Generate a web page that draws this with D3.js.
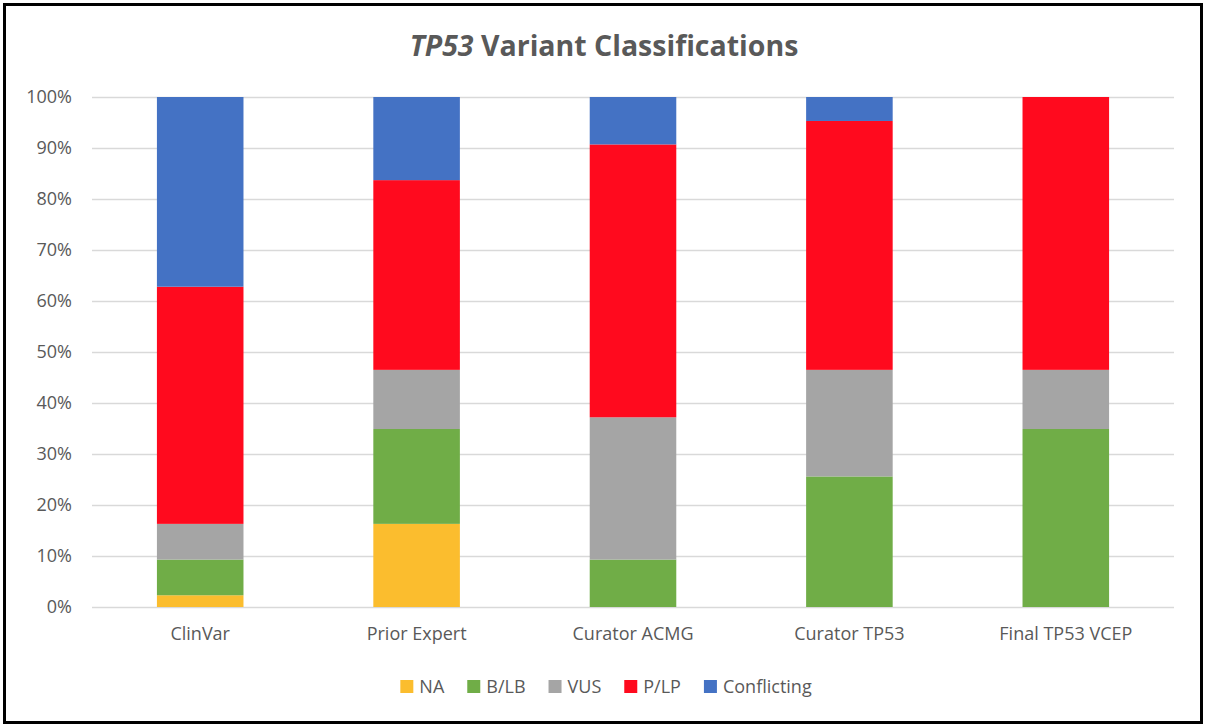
<!DOCTYPE html>
<html><head><meta charset="utf-8">
<script src="https://cdn.jsdelivr.net/npm/d3@7"></script>
<style>body{margin:0;background:#fff}svg{display:block}</style>
</head><body>
<svg id="c" width="1207" height="728"></svg>
<script>
const categories = ["ClinVar","Prior Expert","Curator ACMG","Curator TP53","Final TP53 VCEP"];
const seriesNames = ["NA","B/LB","VUS","P/LP","Conflicting"];
const seriesColors = ["#FBBD2E","#70AD47","#A5A5A5","#FF0A1E","#4472C4"];
// percent of variants per category
const NA          = [2.3, 16.3, 0,    0,    0];
const BLB         = [7.0, 18.6, 9.3,  25.6, 34.9];
const VUS         = [7.0, 11.6, 27.9, 20.9, 11.6];
const PLP         = [46.5,37.2, 53.5, 48.8, 53.5];
const Conflicting = [37.2,16.3, 9.3,  4.7,  0];
const yTicks = [0,10,20,30,40,50,60,70,80,90,100];

(function(){
const seriesValues = [NA,BLB,VUS,PLP,Conflicting];
const rows = categories.map((c,i)=>{const r={cat:c};seriesNames.forEach((s,j)=>r[s]=seriesValues[j][i]);return r;});
const stack = d3.stack().keys(seriesNames)(rows);

const svg = d3.select("#c");
svg.append("rect").attr("x",4.5).attr("y",4.5).attr("width",1197).attr("height",718)
  .attr("fill","#fff").attr("stroke","#000").attr("stroke-width",3);

const pL=92,pR=1174,pT=97,pB=607;
const x = d3.scaleBand().domain(categories).range([pL,pR]).paddingInner(0.6).paddingOuter(0.3);
const y = d3.scaleLinear().domain([0,100]).range([pB,pT]);

const font = "'Open Sans', sans-serif";
const fs = "18px";
const ga = svg.append("g").attr("transform",`translate(${pL},0)`)
  .call(d3.axisLeft(y).tickValues(yTicks).tickSize(-(pR-pL)).tickFormat(d=>d+"%").tickPadding(20));
ga.select(".domain").remove();
ga.selectAll(".tick line").attr("stroke","#D9D9D9").attr("stroke-width",1.5);
ga.selectAll(".tick text").attr("fill","#595959").style("font-family",font).style("font-size",fs);

svg.append("g").selectAll("g").data(stack).join("g")
  .attr("fill",(d,i)=>seriesColors[i])
  .selectAll("rect").data(d=>d).join("rect")
  .attr("x",d=>x(d.data.cat)).attr("width",x.bandwidth())
  .attr("y",d=>y(d[1])).attr("height",d=>y(d[0])-y(d[1]));

const xa = svg.append("g").attr("transform",`translate(0,${pB})`)
  .call(d3.axisBottom(x).tickSize(0).tickPadding(20));
xa.select(".domain").remove();
xa.selectAll(".tick text").attr("fill","#595959").style("font-family",font).style("font-size",fs);

const t = svg.append("text").attr("x",604).attr("y",56).attr("text-anchor","middle")
  .attr("fill","#595959").style("font-family",font).style("font-size","28.5px").style("font-weight","bold");
t.append("tspan").style("font-style","italic").text("TP53");
t.append("tspan").text(" Variant Classifications");

const lg = svg.append("g");
let lx = 0;
const gap = 23;
seriesNames.forEach((s,i)=>{
  const g = lg.append("g").attr("transform",`translate(${lx},0)`);
  g.append("rect").attr("x",0).attr("y",-13).attr("width",13).attr("height",13).attr("fill",seriesColors[i]);
  const tx = g.append("text").attr("x",19).attr("y",0).attr("fill","#595959")
    .style("font-family",font).style("font-size",fs).text(s);
  lx += 19 + tx.node().getComputedTextLength() + gap;
});
const lw = lx-gap;
lg.attr("transform",`translate(${606-lw/2},693)`);
})();
</script>
</body></html>
